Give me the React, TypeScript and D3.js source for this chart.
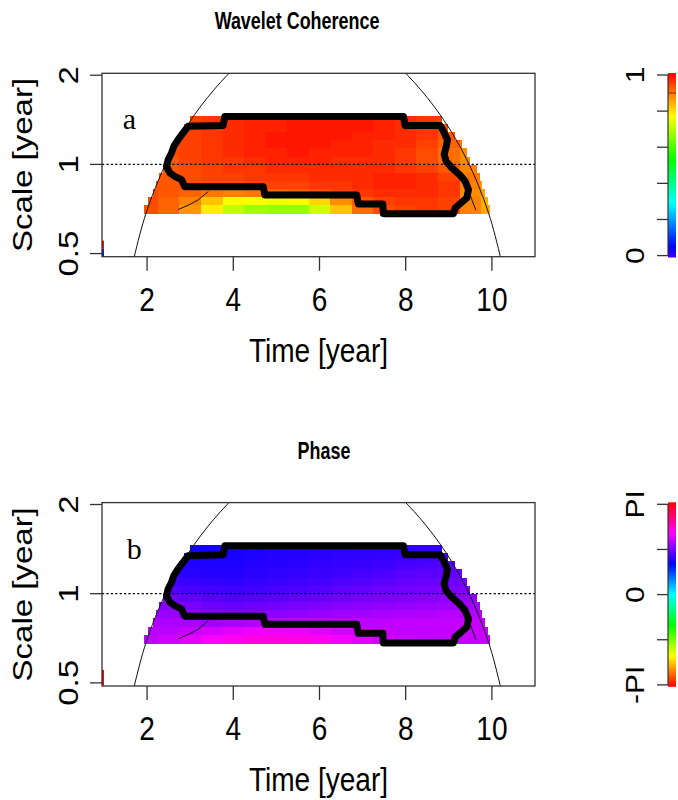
import * as d3 from 'd3';
import { useEffect, useRef } from 'react';

// time centres of the heatmap columns (years), each column is half a year wide
const timeCols = [2, 2.5, 3, 3.5, 4, 4.5, 5, 5.5, 6, 6.5, 7, 7.5, 8, 8.5, 9, 9.5, 10];
// period edges of the heatmap rows (years), top to bottom
const periodEdges = [1.46, 1.37, 1.286, 1.207, 1.133, 1.063, 0.998, 0.937, 0.879, 0.825, 0.774, 0.727, 0.682];
// first / last time that is coloured in each row
const rowStart = [2.99, 2.86, 2.75, 2.64, 2.54, 2.45, 2.36, 2.27, 2.2, 2.13, 2.03, 1.93];
const rowEnd = [8.84, 8.99, 9.15, 9.3, 9.42, 9.5, 9.65, 9.73, 9.77, 9.84, 9.92, 9.96];

const coherence = [
  [null, null, 0.94, 0.95, 0.96, 0.97, 0.97, 0.98, 0.98, 0.98, 0.98, 0.97, 0.96, 0.95, 0.94, null, null],
  [null, null, 0.94, 0.95, 0.96, 0.97, 0.97, 0.98, 0.98, 0.98, 0.98, 0.97, 0.96, 0.95, 0.93, null, null],
  [null, null, 0.94, 0.95, 0.96, 0.97, 0.98, 0.98, 0.98, 0.98, 0.97, 0.97, 0.96, 0.95, 0.92, null, null],
  [null, 0.93, 0.94, 0.95, 0.96, 0.97, 0.98, 0.98, 0.98, 0.97, 0.97, 0.96, 0.96, 0.94, 0.91, 0.89, null],
  [null, 0.93, 0.94, 0.95, 0.96, 0.97, 0.97, 0.98, 0.97, 0.97, 0.97, 0.96, 0.95, 0.93, 0.9, 0.87, null],
  [null, 0.92, 0.94, 0.95, 0.95, 0.96, 0.97, 0.97, 0.97, 0.96, 0.96, 0.96, 0.95, 0.93, 0.9, 0.87, null],
  [null, 0.92, 0.93, 0.94, 0.95, 0.95, 0.96, 0.96, 0.96, 0.96, 0.96, 0.96, 0.95, 0.94, 0.92, 0.88, null],
  [null, 0.92, 0.93, 0.94, 0.94, 0.95, 0.95, 0.95, 0.96, 0.96, 0.96, 0.97, 0.97, 0.96, 0.94, 0.89, null],
  [0.93, 0.92, 0.93, 0.93, 0.93, 0.94, 0.94, 0.94, 0.95, 0.95, 0.96, 0.97, 0.97, 0.96, 0.95, 0.88, 0.85],
  [0.93, 0.92, 0.91, 0.89, 0.88, 0.89, 0.91, 0.92, 0.93, 0.94, 0.95, 0.96, 0.96, 0.96, 0.95, 0.87, 0.85],
  [0.93, 0.91, 0.88, 0.82, 0.77, 0.76, 0.75, 0.76, 0.8, 0.87, 0.92, 0.94, 0.95, 0.95, 0.94, 0.88, 0.84],
  [0.93, 0.91, 0.86, 0.78, 0.71, 0.68, 0.67, 0.67, 0.72, 0.82, 0.9, 0.93, 0.94, 0.95, 0.94, 0.88, 0.84],
];

// phase in radians
const phase = [
  [null, null, 1.13, 1.13, 1.13, 1.15, 1.17, 1.19, 1.2, 1.2, 1.22, 1.22, 1.24, 1.26, 1.28, null, null],
  [null, null, 1.15, 1.15, 1.15, 1.17, 1.19, 1.2, 1.22, 1.24, 1.24, 1.26, 1.28, 1.3, 1.33, null, null],
  [null, null, 1.18, 1.17, 1.17, 1.19, 1.21, 1.22, 1.24, 1.26, 1.28, 1.3, 1.33, 1.36, 1.4, null, null],
  [null, 1.25, 1.22, 1.2, 1.2, 1.22, 1.24, 1.26, 1.28, 1.3, 1.33, 1.36, 1.4, 1.42, 1.45, 1.48, null],
  [null, 1.32, 1.28, 1.25, 1.24, 1.26, 1.28, 1.3, 1.33, 1.36, 1.4, 1.43, 1.46, 1.48, 1.5, 1.53, null],
  [null, 1.4, 1.35, 1.32, 1.3, 1.32, 1.34, 1.36, 1.4, 1.43, 1.46, 1.5, 1.52, 1.54, 1.56, 1.58, null],
  [null, 1.5, 1.45, 1.4, 1.38, 1.4, 1.42, 1.45, 1.48, 1.5, 1.53, 1.56, 1.58, 1.6, 1.62, 1.64, null],
  [null, 1.6, 1.55, 1.5, 1.48, 1.5, 1.52, 1.55, 1.57, 1.6, 1.62, 1.64, 1.66, 1.68, 1.7, 1.72, null],
  [1.72, 1.68, 1.64, 1.6, 1.58, 1.6, 1.62, 1.65, 1.68, 1.7, 1.72, 1.74, 1.76, 1.78, 1.8, 1.8, 1.8],
  [1.78, 1.76, 1.74, 1.72, 1.74, 1.78, 1.8, 1.82, 1.82, 1.82, 1.82, 1.83, 1.84, 1.85, 1.86, 1.86, 1.86],
  [1.8, 1.82, 1.86, 1.92, 1.98, 2.02, 2.03, 2.02, 1.98, 1.92, 1.88, 1.85, 1.84, 1.84, 1.85, 1.86, 1.86],
  [1.85, 1.9, 1.98, 2.08, 2.15, 2.2, 2.22, 2.2, 2.15, 2.05, 1.98, 1.92, 1.88, 1.86, 1.86, 1.86, 1.86],
];

// significance contour [time, period]
const sigContour = [
  [3.805, 1.452], [7.947, 1.452], [7.986, 1.354], [8.799, 1.354], [8.876, 1.293], [8.969, 1.212],
  [8.938, 1.145], [8.892, 1.079], [8.938, 1.024], [9.071, 0.973], [9.247, 0.924], [9.38, 0.877],
  [9.457, 0.822], [9.419, 0.771], [9.264, 0.737], [9.148, 0.713], [9.108, 0.682], [7.482, 0.682],
  [7.468, 0.735], [6.901, 0.735], [6.864, 0.788], [4.734, 0.788], [4.695, 0.84], [2.876, 0.84],
  [2.799, 0.888], [2.643, 0.911], [2.527, 0.936], [2.451, 0.985], [2.488, 1.037], [2.567, 1.093],
  [2.62, 1.15], [2.72, 1.212], [2.836, 1.277], [2.952, 1.344], [3.765, 1.354],
];

// cone of influence
const coiLeft = [[1.62, 0.434], [1.9, 0.63], [2.2, 0.84], [2.5, 1.05], [2.8, 1.26], [3.1, 1.47], [3.4, 1.68], [3.7, 1.89], [4.0, 2.1]];
const coiRight = [[7.9, 2.1], [8.2, 1.89], [8.5, 1.68], [8.8, 1.47], [9.1, 1.26], [9.4, 1.05], [9.7, 0.84], [10.0, 0.63], [10.3, 0.42]];

// thin contour pieces
const thinLeft = [[2.72, 0.704], [2.99, 0.732], [3.19, 0.76], [3.42, 0.81]];
const thinRight = [[9.46, 0.82], [9.52, 0.77], [9.63, 0.7]];

// tiny strip at the left edge
const edgeCoh = [{ p0: 0.519, p1: 0.553, v: 1 }, { p0: 0.488, p1: 0.519, v: 0.08 }];
const edgePhase = [{ p0: 0.49, p1: 0.553, v: 3.1 }];

const xTicks = [2, 4, 6, 8, 10];
const yTicks = [0.5, 1, 2];
const cohTicks = [0, 0.2, 0.4, 0.6, 0.8, 1];
const cohLabels = [{ v: 0, label: '0' }, { v: 1, label: '1' }];
const phaseTicks = [-Math.PI, -Math.PI / 2, 0, Math.PI / 2, Math.PI];
const phaseLabels = [{ v: -Math.PI, label: '-PI' }, { v: 0, label: '0' }, { v: Math.PI, label: 'PI' }];

const FONT = '"Liberation Sans", Arial, sans-serif';
const SQ = 0.85;

const cohColor = (v: number) => d3.hsl((1 - v) * 255, 1, 0.5).toString();
const phaseColor = (v: number) => d3.hsl(((v + Math.PI) / (2 * Math.PI)) * 360, 1, 0.5).toString();

export default function App() {
  const ref = useRef<SVGSVGElement | null>(null);

  useEffect(() => {
    const svg = d3.select(ref.current);
    svg.selectAll('*').remove();

    const plot = { left: 102, right: 535, top: 73.3, bottom: 256.7 };
    const x = d3.scaleLinear().domain([0.954, 11.0]).range([plot.left, plot.right]);
    const y = d3.scaleLog().base(2).domain([0.488, 2.03]).range([plot.bottom, plot.top]);
    const defs = svg.append('defs');

    const addText = (g: any, tx: number, ty: number, txt: string, size: number, opts: any = {}) => {
      const tr = opts.rotate
        ? `translate(${tx},${ty}) rotate(-90) scale(1,${opts.sq ?? SQ})`
        : `translate(${tx},${ty}) scale(${opts.sq ?? SQ},1)`;
      g.append('text')
        .attr('transform', tr)
        .attr('text-anchor', opts.anchor ?? 'middle')
        .attr('font-family', opts.family ?? FONT)
        .attr('font-weight', opts.bold ? 'bold' : 'normal')
        .style('font-size', `${size}px`)
        .attr('fill', '#000')
        .text(txt);
    };

    const drawPanel = (cfg: any) => {
      const g = svg.append('g').attr('transform', `translate(0,${cfg.dy})`);
      const clipId = `clip${cfg.key}`;
      defs.append('clipPath').attr('id', clipId)
        .append('rect')
        .attr('x', plot.left).attr('y', plot.top + cfg.dy)
        .attr('width', plot.right - plot.left).attr('height', plot.bottom - plot.top);

      /* ---------- HEATMAP ---------- */
      const cells = g.append('g').attr('shape-rendering', 'crispEdges');
      cfg.grid.forEach((row: (number | null)[], i: number) => {
        row.forEach((v, j) => {
          if (v === null) return;
          const t0 = Math.max(timeCols[j] - 0.25, rowStart[i]);
          const t1 = Math.min(timeCols[j] + 0.25, rowEnd[i]);
          if (t1 <= t0) return;
          const y0 = y(periodEdges[i]);
          const y1 = y(periodEdges[i + 1]);
          cells.append('rect')
            .attr('x', x(t0))
            .attr('y', y0)
            .attr('width', x(t1) - x(t0) + (t1 < rowEnd[i] ? 0.6 : 0))
            .attr('height', y1 - y0 + 0.6)
            .attr('fill', cfg.color(v));
        });
      });

      cfg.edge.forEach((d: any) => {
        g.append('rect')
          .attr('x', x(0.954)).attr('width', x(1.0) - x(0.954))
          .attr('y', y(d.p1)).attr('height', y(d.p0) - y(d.p1))
          .attr('fill', cfg.color(d.v));
      });

      /* ---------- DOTTED LINE AT 1 YEAR ---------- */
      g.append('line')
        .attr('x1', plot.left).attr('x2', plot.right)
        .attr('y1', y(1)).attr('y2', y(1))
        .attr('stroke', '#000').attr('stroke-width', 1.3)
        .attr('stroke-dasharray', '2.2,2.2');

      /* ---------- COI ---------- */
      const line = d3.line<number[]>().x(d => x(d[0])).y(d => y(d[1]));
      const coiG = g.append('g').attr('clip-path', `url(#${clipId})`).attr('transform', `translate(0,0)`);
      // clip rect is in svg coords, so put a wrapper without offset
      coiG.attr('clip-path', null);
      const clipped = svg.append('g').attr('clip-path', `url(#${clipId})`)
        .append('g').attr('transform', `translate(0,${cfg.dy})`);
      [coiLeft, coiRight].forEach(c => {
        clipped.append('path')
          .attr('d', line.curve(d3.curveMonotoneX)(c as any))
          .attr('fill', 'none').attr('stroke', '#111').attr('stroke-width', 1);
      });
      [thinLeft, thinRight].forEach(c => {
        clipped.append('path')
          .attr('d', line.curve(d3.curveLinear)(c as any))
          .attr('fill', 'none').attr('stroke', '#111').attr('stroke-width', 1);
      });

      /* ---------- SIGNIFICANCE CONTOUR ---------- */
      const closed = d3.line<number[]>().x(d => x(d[0])).y(d => y(d[1])).curve(d3.curveLinearClosed);
      clipped.append('path')
        .attr('d', closed(sigContour as any))
        .attr('fill', 'none').attr('stroke', '#000').attr('stroke-width', 7)
        .attr('stroke-linejoin', 'round');

      /* ---------- BOX + AXES ---------- */
      const axG = svg.append('g').attr('transform', `translate(0,${cfg.dy})`);
      axG.append('rect')
        .attr('x', plot.left).attr('y', plot.top)
        .attr('width', plot.right - plot.left).attr('height', plot.bottom - plot.top)
        .attr('fill', 'none').attr('stroke', '#333').attr('stroke-width', 1.3);

      xTicks.forEach(t => {
        axG.append('line')
          .attr('x1', x(t)).attr('x2', x(t))
          .attr('y1', plot.bottom).attr('y2', plot.bottom + 14)
          .attr('stroke', '#333').attr('stroke-width', 1.3);
        addText(axG, x(t), plot.bottom + 54, String(t), 33);
      });
      yTicks.forEach(p => {
        axG.append('line')
          .attr('x1', plot.left - 12).attr('x2', plot.left)
          .attr('y1', y(p)).attr('y2', y(p))
          .attr('stroke', '#333').attr('stroke-width', 1.3);
        addText(axG, 78.3, y(p), String(p), 33, { rotate: true });
      });
      addText(axG, (plot.left + plot.right) / 2, plot.bottom + 105, 'Time [year]', 33);
      addText(axG, 32.3, (plot.top + plot.bottom) / 2, 'Scale [year]', 33, { rotate: true });

      /* ---------- TITLE + PANEL LETTER ---------- */
      addText(axG, cfg.titleX, 29.3, cfg.title, 23, { bold: true, sq: 0.78 });
      addText(axG, cfg.letterX, 129.3, cfg.letter, 30, { anchor: 'start', family: '"Liberation Serif", "Times New Roman", serif', sq: 1 });

      /* ---------- COLOUR BAR ---------- */
      const bar = { x: 668, w: 8, top: 73, bottom: 257.5 };
      const cb = d3.scaleLinear().domain(cfg.cbDomain).range([255.6, 75]);
      const gradId = `grad${cfg.key}`;
      const grad = defs.append('linearGradient').attr('id', gradId)
        .attr('x1', 0).attr('y1', 1).attr('x2', 0).attr('y2', 0);
      d3.range(0, 1.0001, 0.02).forEach(f => {
        const v = cfg.cbDomain[0] + f * (cfg.cbDomain[1] - cfg.cbDomain[0]);
        grad.append('stop').attr('offset', `${f * 100}%`).attr('stop-color', cfg.color(v));
      });
      axG.append('rect')
        .attr('x', bar.x).attr('y', bar.top)
        .attr('width', bar.w).attr('height', bar.bottom - bar.top)
        .attr('fill', `url(#${gradId})`);
      if (cfg.key === 'coh') {
        axG.append('line')
          .attr('x1', bar.x).attr('x2', bar.x + bar.w)
          .attr('y1', cb(0.9)).attr('y2', cb(0.9))
          .attr('stroke', '#8a2a00').attr('stroke-width', 1);
      }
      axG.append('line')
        .attr('x1', bar.x).attr('x2', bar.x)
        .attr('y1', cb(cfg.cbDomain[0])).attr('y2', cb(cfg.cbDomain[1]))
        .attr('stroke', '#333').attr('stroke-width', 1.2);
      cfg.cbTicks.forEach((v: number) => {
        axG.append('line')
          .attr('x1', bar.x - 11).attr('x2', bar.x)
          .attr('y1', cb(v)).attr('y2', cb(v))
          .attr('stroke', '#333').attr('stroke-width', 1.3);
      });
      cfg.cbLabels.forEach((d: any) => {
        addText(axG, 644, cb(d.v), d.label, 30, { rotate: true });
      });
    };

    drawPanel({
      key: 'coh', dy: 0, grid: coherence, color: cohColor, edge: edgeCoh,
      title: 'Wavelet Coherence', titleX: 297, letter: 'a', letterX: 122.7,
      cbDomain: [0, 1], cbTicks: cohTicks, cbLabels: cohLabels,
    });
    drawPanel({
      key: 'ph', dy: 429.3, grid: phase, color: phaseColor, edge: edgePhase,
      title: 'Phase', titleX: 324, letter: 'b', letterX: 126.7,
      cbDomain: [-Math.PI, Math.PI], cbTicks: phaseTicks, cbLabels: phaseLabels,
    });
  }, []);

  return (
    <div style={{ position: 'absolute', left: 0, top: 0 }}>
      <svg ref={ref} width={678} height={800} style={{ display: 'block', background: '#fff' }} />
    </div>
  );
}
